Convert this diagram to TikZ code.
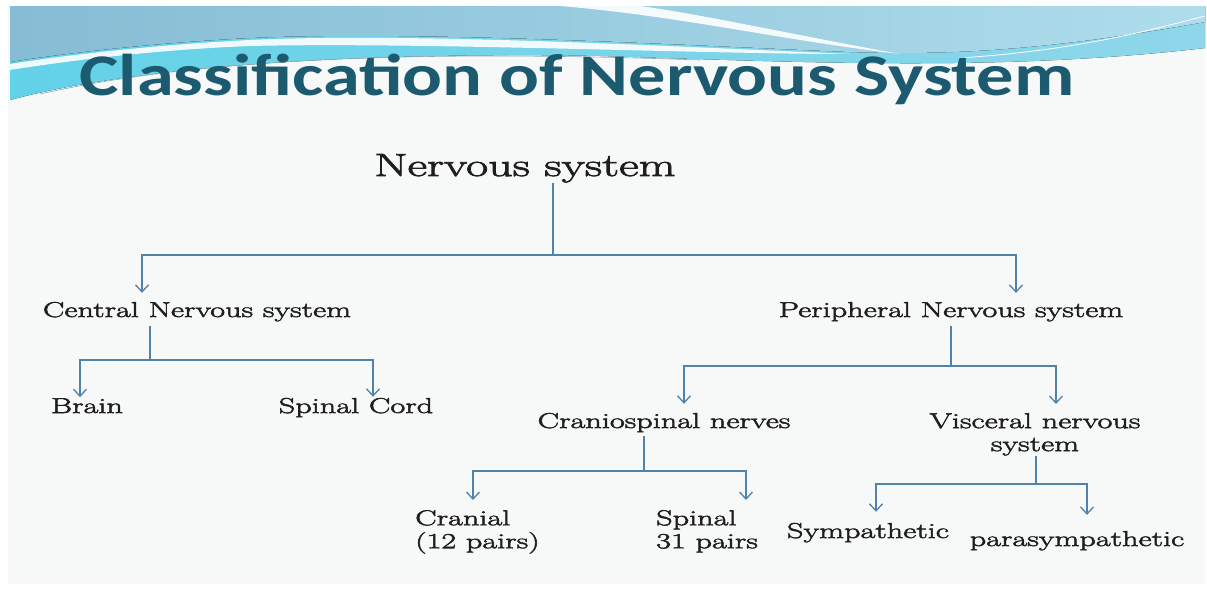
\documentclass[tikz,border=0pt]{standalone}
\usepackage{fontspec}
\setmainfont{Latin Modern Roman}[FakeStretch=1.5,FakeBold=2.5]
\newfontfamily\titlefont{Carlito}[FakeStretch=1.26]
\usetikzlibrary{arrows.meta,positioning}
\definecolor{titleteal}{HTML}{1B5A6F}
\definecolor{linkblue}{HTML}{5282AA}
\definecolor{slidebg}{HTML}{F7F8F8}
\definecolor{wavedeep}{HTML}{86BCD4}
\definecolor{wavepale}{HTML}{AEDDEC}
\definecolor{cyanleft}{HTML}{62D2E8}
\definecolor{cyanright}{HTML}{8FD6EA}
\definecolor{inktext}{HTML}{1E1E1E}

\begin{document}
\begin{tikzpicture}[
  x=1pt,y=-1pt,
  lbl/.style={inner sep=0pt,text=inktext,font=\fontsize{21.5}{23}\selectfont},
  link/.style={draw=linkblue,line width=1.3pt},
  stem/.style={link,shorten <=4pt},
  arrow/.style={link,-{Straight Barb[length=7pt,width=13pt]},shorten >=9pt},
  headline/.style={inner sep=0pt,anchor=base,font=\titlefont\bfseries\fontsize{59}{60}\selectfont}
]
% slide background and banner
\useasboundingbox (0,0) rectangle (1207,589);
\fill[white] (0,0) rectangle (1207,589);
\fill[slidebg] (8,6) rectangle (1205,584);
\fill[left color=cyanleft,right color=cyanright] (10,6) -- (1205,6) -- (1205,48)
  .. controls (1000,72) and (800,62) .. (600,56)
  .. controls (400,52) and (150,62) .. (10,100) -- cycle;
\fill[left color=wavedeep,right color=wavepale] (10,6) -- (1205,6) -- (1205,22)
  .. controls (1060,48) and (960,56) .. (850,52)
  .. controls (700,46) and (420,30) .. (250,38)
  .. controls (150,43) and (60,54) .. (10,62) -- cycle;
\fill[white,opacity=.9] (10,64) .. controls (60,56) and (150,45) .. (250,40)
  .. controls (420,32) and (700,48) .. (850,54)
  .. controls (700,54) and (420,42) .. (250,46)
  .. controls (150,50) and (60,62) .. (10,70) -- cycle;
\fill[white,opacity=.9] (560,6) .. controls (680,16) and (780,40) .. (900,54)
  .. controls (800,36) and (700,14) .. (640,6) -- cycle;
\draw[titleteal!50,line width=.6pt] (40,94) .. controls (200,58) and (420,50) .. (700,60);
\draw[white,line width=.8pt] (960,58) .. controls (1080,50) and (1150,30) .. (1205,16);

% title
\node[headline,text=titleteal] (title) at (577,95) {Classification of Nervous System};

% labels
\node[lbl,font=\fontsize{32}{34}\selectfont,anchor=base] (nervous) at (525,176) {Nervous system};
\node[lbl,anchor=base] (central) at (197,317) {Central Nervous system};
\node[lbl,anchor=base] (peripheral) at (951,317) {Peripheral Nervous system};
\node[lbl,anchor=base] (brain) at (87,413) {Brain};
\node[lbl,anchor=base] (spinalcord) at (356,413) {Spinal Cord};
\node[lbl,anchor=base] (cranio) at (664,428) {Craniospinal nerves};
\node[lbl,anchor=north,align=center] (visceral) at (1035,413) {Visceral nervous\\system};
\node[lbl,anchor=north west,align=left] (cranial) at (415,510) {Cranial\\(12 pairs)};
\node[lbl,anchor=north west,align=left] (spinalnerves) at (656,510) {Spinal\\31 pairs};
\node[lbl,anchor=base] (sympa) at (868,538) {Sympathetic};
\node[lbl,anchor=base] (parasympa) at (1077,546) {parasympathetic};

% junctions
\coordinate (hub) at (553,255);
\coordinate (cnshub) at (150,360);
\coordinate (pnshub) at (951,366);
\coordinate (crhub) at (644,471);
\coordinate (vishub) at (1036,484);

% connectors
\draw[link] (nervous.south -| hub) -- (hub);
\draw[arrow] (hub) -| ([xshift=-55pt]central.north);
\draw[arrow] (hub) -| ([xshift=65pt]peripheral.north);

\draw[stem] (central.south -| cnshub) -- (cnshub);
\draw[arrow,shorten >=1pt] (cnshub) -| ([xshift=-7pt]brain.north);
\draw[arrow,shorten >=1pt] (cnshub) -| ([xshift=17pt]spinalcord.north);

\draw[stem] (peripheral.south) -- (pnshub);
\draw[arrow] (pnshub) -| ([xshift=20pt]cranio.north);
\draw[arrow] (pnshub) -| ([xshift=21pt]visceral.north);

\draw[stem] (cranio.south -| crhub) -- (crhub);
\draw[arrow,shorten >=10pt] (crhub) -| ([xshift=58pt]cranial.north west);
\draw[arrow,shorten >=10pt] (crhub) -| ([xshift=90pt]spinalnerves.north west);

\draw[link] (visceral.south -| vishub) -- (vishub);
\draw[arrow,shorten >=11pt] (vishub) -| ([xshift=8pt]sympa.north);
\draw[arrow,shorten >=16pt] (vishub) -| ([xshift=10pt]parasympa.north);
\end{tikzpicture}
\end{document}
